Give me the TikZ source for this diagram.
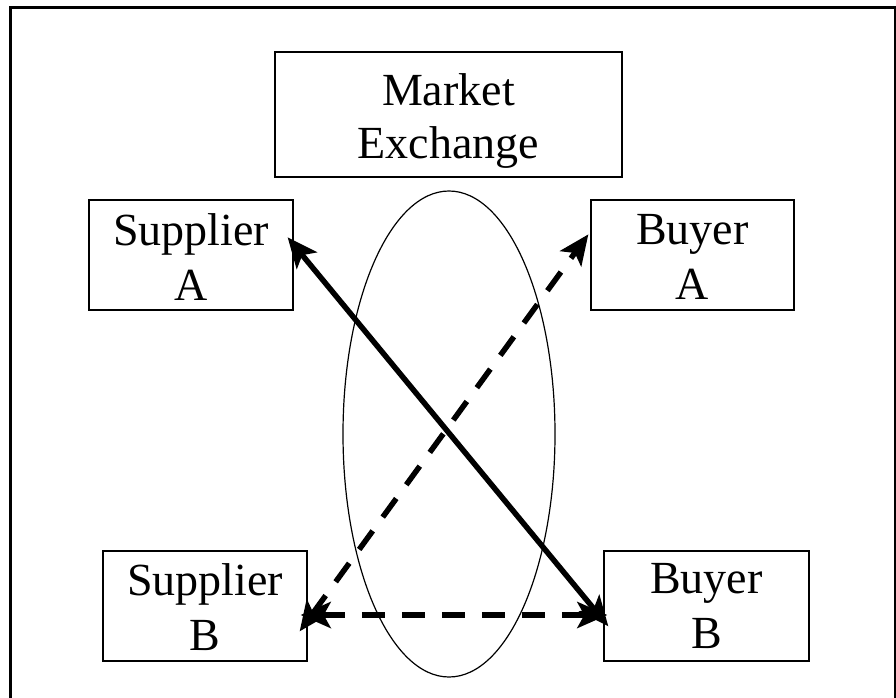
\documentclass[tikz,border=0pt]{standalone}
\usepackage{fontspec}
\setmainfont{Liberation Serif}
\usetikzlibrary{arrows.meta,calc,shapes.geometric}
\begin{document}
\begin{tikzpicture}[x=1pt,y=-1pt,
  boxnode/.style={draw=black, line width=1.3pt, rectangle, inner sep=0pt, minimum height=110pt},
  txt/.style={font=\fontsize{46}{55}\selectfont, align=center, inner sep=0pt, anchor=north},
  conn/.style={line width=5.5pt, {Stealth[length=30pt,width=26pt,inset=7pt]}-{Stealth[length=30pt,width=26pt,inset=7pt]}},
  dashconn/.style={conn, dash pattern=on 23pt off 17pt}
]
\useasboundingbox (0,0) rectangle (896,698);
% outer frame (bottom edge lies outside the picture)
\draw[line width=3pt] (10.5,702) -- (10.5,7.5) -- (895,7.5) -- (895,702);

% boxes
\node[boxnode, minimum width=347pt, minimum height=125pt] (mkt) at (448.5,114.5) {};
\node[boxnode, minimum width=204pt] (supA) at (191,255) {};
\node[boxnode, minimum width=203pt] (buyA) at (692.5,255) {};
\node[boxnode, minimum width=204pt] (supB) at (205,606) {};
\node[boxnode, minimum width=205pt] (buyB) at (706.5,606) {};

% texts
\node[txt, font=\fontsize{46}{53}\selectfont] (mktt) at (448.5,73.6) {Market\\Exchange};
\node[txt] (supAt) at (191,213.6) {Supplier\\A};
\node[txt] (buyAt) at (692.5,214.5) {Buyer\\A};
\node[txt] (supBt) at (205,563.6) {Supplier\\B};
\node[txt] (buyBt) at (706.5,563.5) {Buyer\\B};

% ellipse
\node[draw=black, line width=1.2pt, ellipse, inner sep=0pt,
      minimum width=212pt, minimum height=486pt] (exch) at (449,434) {};

% connectors
\draw[conn] ($(supA.north east)+(-6,38)$) -- ($(buyB.north west)+(5,76)$);
\draw[dashconn] ($(supB.north east)+(-8,81)$) -- ($(buyA.north west)+(-2,35)$);
\draw[dashconn] ($(supB.east)+(-7,9)$) -- ($(buyB.west)+(4,9)$);
\end{tikzpicture}
\end{document}
